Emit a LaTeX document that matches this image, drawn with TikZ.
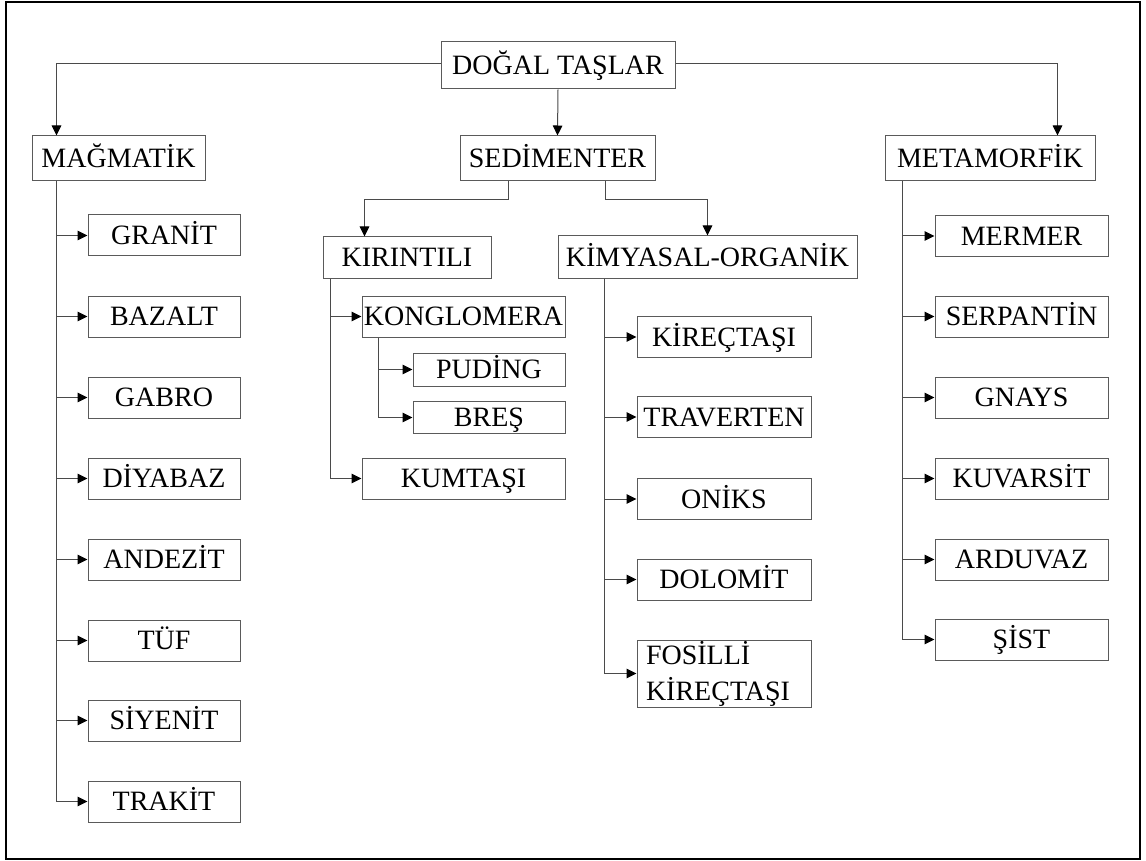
\documentclass[tikz,border=0pt]{standalone}
\usepackage{fontspec}
\setmainfont{Liberation Serif}
\usetikzlibrary{arrows.meta,calc}
\definecolor{boxgray}{HTML}{5A5A5A}
\definecolor{linegray}{HTML}{4A4A4A}
\begin{document}
\begin{tikzpicture}[x=1pt,y=-1pt,
  bx/.style={draw=boxgray, line width=1pt, inner sep=0pt, font=\fontsize{28}{36}\selectfont, text=black},
  lbl/.style={bx, text height=18.5pt, text depth=0pt},
  colA/.style={lbl, minimum width=152pt, minimum height=41pt},
  colK/.style={lbl, minimum width=174pt, minimum height=41pt},
  colM/.style={lbl, minimum width=173pt, minimum height=41pt},
  arr/.style={draw=linegray, line width=1pt, -{Triangle[length=10pt,width=9.5pt,color=black]}}]
\useasboundingbox (0,0) rectangle (1146,861);
\draw[line width=2.5pt] (6,2) rectangle (1140,859);

% top level
\node[lbl, minimum width=234pt, minimum height=47pt] (dogal) at (558,65.5) {DOĞAL TAŞLAR};
\node[lbl, minimum width=173pt, minimum height=45pt] (mag) at (118.5,158.5) {MAĞMATİK};
\node[lbl, minimum width=195pt, minimum height=45pt] (sed) at (557.5,158.5) {SEDİMENTER};
\node[lbl, minimum width=210pt, minimum height=45pt] (meta) at (990,158.5) {METAMORFİK};

% sedimenter sub
\node[lbl, minimum width=168pt, minimum height=41pt] (kir) at (407,257.5) {KIRINTILI};
\node[lbl, minimum width=299pt, minimum height=42pt] (kim) at (707.5,257) {KİMYASAL-ORGANİK};

% magmatik column
\node[colA] (granit) at (164,235.5) {GRANİT};
\node[colA] (bazalt) at (164,316.5) {BAZALT};
\node[colA] (gabro) at (164,397.5) {GABRO};
\node[colA] (diyabaz) at (164,478.5) {DİYABAZ};
\node[colA] (andezit) at (164,559.5) {ANDEZİT};
\node[colA] (tuf) at (164,640.5) {TÜF};
\node[colA] (siyenit) at (164,720.5) {SİYENİT};
\node[colA] (trakit) at (164,801.5) {TRAKİT};

% kirintili column
\node[lbl, minimum width=203pt, minimum height=41pt] (kong) at (463.5,316.5) {KONGLOMERA};
\node[lbl, minimum width=152pt, minimum height=33pt] (puding) at (489,369.5) {PUDİNG};
\node[lbl, minimum width=152pt, minimum height=32pt] (bres) at (489,417.5) {BREŞ};
\node[lbl, minimum width=203pt, minimum height=41pt] (kumtasi) at (463.5,478.5) {KUMTAŞI};

% kimyasal column
\node[colK] (kirec) at (724,337) {KİREÇTAŞI};
\node[colK] (trav) at (724,417) {TRAVERTEN};
\node[colK] (oniks) at (724,499) {ONİKS};
\node[colK] (dolomit) at (724,579.5) {DOLOMİT};
\node[bx, minimum width=174pt, minimum height=67pt, align=left, text width=156pt] (fos) at (724,673.5) {FOSİLLİ\\KİREÇTAŞI};

% metamorfik column
\node[colM] (mermer) at (1021.5,236) {MERMER};
\node[colM] (serp) at (1021.5,316.5) {SERPANTİN};
\node[colM] (gnays) at (1021.5,397.5) {GNAYS};
\node[colM] (kuvar) at (1021.5,478.5) {KUVARSİT};
\node[colM] (ardu) at (1021.5,559.5) {ARDUVAZ};
\node[colM] (sist) at (1021.5,639.5) {ŞİST};

% connectors from top
\draw[arr] ([yshift=1.5pt]dogal.west) -| ($(mag.north west)+(25,0)$);
\draw[arr] ([yshift=1.5pt]dogal.east) -| ($(meta.north west)+(173,0)$);
\draw[arr] (dogal.south) -- (sed.north);

% sedimenter split
\draw[arr] ($(sed.south west)+(49,0)$) -- ++(0,18) -| ($(kir.north west)+(42,0)$);
\draw[arr] ($(sed.south west)+(146,0)$) -- ++(0,18) -| (kim.north);

% trunks
\foreach \n in {granit,bazalt,gabro,diyabaz,andezit,tuf,siyenit,trakit}
  \draw[arr] ($(mag.south west)+(25,0)$) |- (\n.west);
\foreach \n in {kong,kumtasi}
  \draw[arr] ($(kir.south west)+(8,0)$) |- (\n.west);
\foreach \n in {puding,bres}
  \draw[arr] ($(kong.south west)+(17,0)$) |- (\n.west);
\foreach \n in {kirec,trav,oniks,dolomit,fos}
  \draw[arr] ($(kim.south west)+(47,0)$) |- (\n.west);
\foreach \n in {mermer,serp,gnays,kuvar,ardu,sist}
  \draw[arr] ($(meta.south west)+(18,0)$) |- (\n.west);
\end{tikzpicture}
\end{document}
